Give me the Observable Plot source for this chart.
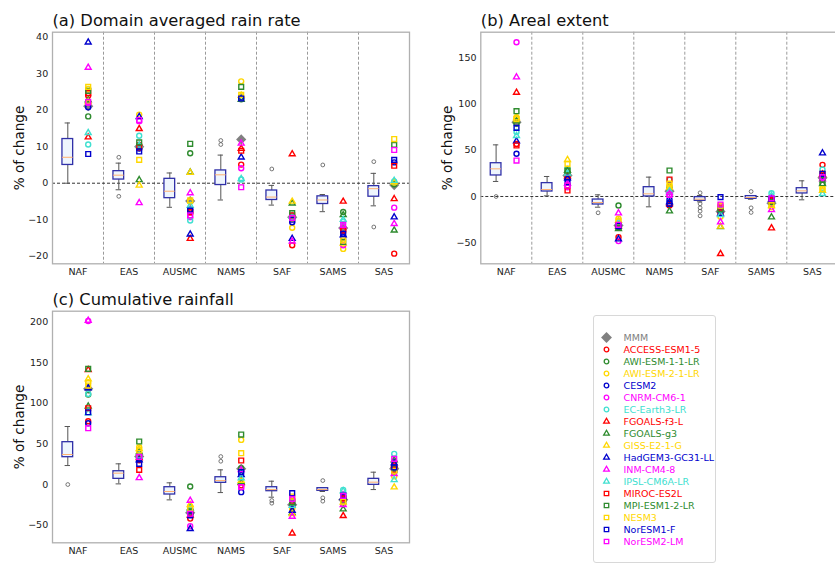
<!DOCTYPE html>
<html><head><meta charset="utf-8">
<script src="https://cdn.jsdelivr.net/npm/d3@7"></script>
<script src="https://cdn.jsdelivr.net/npm/@observablehq/plot@0.6"></script>
<style>
html,body{margin:0;padding:0;background:#fff;overflow:hidden;}
#root{position:relative;width:835px;height:564px;overflow:hidden;font-family:"DejaVu Sans",sans-serif;}
.panel{position:absolute;}
#legend{position:absolute;left:592.7px;top:315px;width:123px;height:248px;border:1px solid #d8d8d8;border-radius:3px;box-sizing:border-box;background:#fff;}
#legend svg{position:absolute;left:-1px;top:-1px;}
</style></head><body><div id="root"></div>
<script>
const regions = ["NAF","EAS","AUSMC","NAMS","SAF","SAMS","SAS"];
const models = ["ACCESS-ESM1-5","AWI-ESM-1-1-LR","AWI-ESM-2-1-LR","CESM2","CNRM-CM6-1","EC-Earth3-LR",
  "FGOALS-f3-L","FGOALS-g3","GISS-E2-1-G","HadGEM3-GC31-LL","INM-CM4-8","IPSL-CM6A-LR",
  "MIROC-ES2L","MPI-ESM1-2-LR","NESM3","NorESM1-F","NorESM2-LM"];
const modelShapes = ["circle","circle","circle","circle","circle","circle",
  "triangle","triangle","triangle","triangle","triangle","triangle",
  "square","square","square","square","square"];
const palette = ["#ff0000","#2e8b2e","#ffd700","#0000cd","#ff00ff","#40e0d0"];
const modelColors = models.map((m, i) => palette[i % 6]);

// (a) Domain averaged rain rate: model values per region (model order as above)
const rateVals = [
  [24.0, 18.3, 25.8, 20.8, 22.0, 10.6, 12.6, 22.8, 22.3, 38.6, 31.7, 13.8, 24.7, 25.3, 26.4, 8.0, 22.3],
  [10.5, 10.2, 18.8, 9.5, 17.0, 13.0, 14.9, 0.9, -0.6, 18.2, -5.4, 10.4, 9.8, 11.2, 6.4, 8.7, 17.3],
  [-8.0, 8.2, -5.0, -7.2, -9.3, -10.2, -15.2, 3.0, 2.9, -14.0, -2.7, -6.1, -7.9, 10.8, -4.7, -7.5, -8.8],
  [5.1, 23.0, 27.9, 23.5, 4.1, 1.0, 9.5, 22.9, 24.0, 7.1, 10.9, 1.2, 8.9, 26.4, 24.2, 23.2, -1.1],
  [-17.0, -9.0, -12.2, -10.7, -9.5, -9.2, 8.0, -5.5, -5.0, -15.2, -15.9, -9.0, -8.8, -8.2, -9.8, -10.0, -9.5],
  [-13.0, -7.9, -18.0, -14.8, -17.0, -10.5, -5.0, -8.7, -16.5, -14.2, -11.8, -10.0, -12.9, -16.1, -15.7, -13.9, -11.4],
  [-19.3, -0.3, 0.2, 5.7, -6.7, 0.5, -4.3, -12.9, 0.3, -9.3, -11.1, 0.7, 4.8, 10.5, 12.1, 6.4, 9.1]
];
const rateMMM = [21.1, 10.0, -4.9, 12.0, -9.3, -12.3, -0.5];
// box stats: [whisker low, q1, median, q3, whisker high]
const rateBox = [
  [0, 5.0, 7.1, 12.1, 16.5], [-1.8, 1.0, 2.2, 3.3, 5.5], [-6.6, -4.1, -2.2, 1.2, 2.8],
  [-4.6, -0.5, 2.3, 3.5, 7.7], [-6.0, -4.6, -3.8, -2.0, -0.6], [-7.8, -5.7, -4.6, -3.6, -3.1],
  [-6.2, -3.7, -1.5, -0.8, 2.7]
];
const rateFliers = [[], [7.1, -3.6], [], [11.7, 10.6], [3.9], [5.0], [5.9, -12.0]];

// (b) Areal extent
const areaVals = [
  [57, 79, 86, 46.3, 167.3, 70, 112.8, 82, 85, 60, 129.4, 65.8, 55.3, 92.5, 84, 74.4, 39.0],
  [12, 26, 30, 19, 10, 30, 22, 28, 39.8, 20, 14, 25, 6.5, 28, 35.4, 15.5, 12],
  [-44.1, -9.8, -24.2, -33, -48.4, -30, -32, -35, -26, -46.3, -18.1, -28, -31, -34, -27, -32, -30.7],
  [-9.8, 10, 12, -3.6, 2, 18, -8, -15.9, 10, -6, 4, 6, 18.4, 28.2, 14, -8, 1.8],
  [-18, -14, -22, -16, -10, -15, -62.2, -33, -32.5, -18.8, -27.8, -20, -12, -14, -10, -0.7, -8.7],
  [-5, -3, -11.6, -2.5, -0.7, 3.6, -34.3, -22.4, -10, -3, -14.5, 1, -4, -6, -9, -2.5, -2],
  [34.3, 14, 8.3, 22, 19, 29.3, 24, 13.7, 6.5, 47.0, 19, 2.9, 24.6, 18, 8, 24.6, 21]
];
const areaMMM = [80.6, 22.8, -31.4, 5.8, -16.3, -7.2, 20.2];
const areaBox = [
  [16.3, 22.8, 30.0, 36.1, 56.0], [0.7, 5.4, 7.6, 14.5, 21.7], [-11.6, -8.7, -6.5, -3.3, 1.8],
  [-11.2, 0, 2.9, 10.1, 21.0], [-5.8, -4.7, -2.9, -0.7, 1.1], [-3.0, -2.5, -1.1, 0.4, 1.0],
  [-3.6, 3.3, 6.1, 9.0, 17.0]
];
const areaFliers = [[0], [], [-17.7], [], [4.0, -8.0, -12.3, -15.9, -21.0], [5.4, -12.3, -17.3], []];

// (c) Cumulative rainfall
const cumVals = [
  [78, 110.9, 126, 75.6, 201.5, 111.7, 141.3, 96.5, 130, 119, 202, 88, 94, 142.5, 122, 89.1, 69.4],
  [30, 38, 46, 32, 36, 37.8, 33, 40, 44, 30, 8.2, 35, 18.1, 53, 42, 25.5, 34],
  [-42, -2.5, -27, -36, -51.3, -32, -38, -29, -25, -54.6, -19.7, -30, -36, -33, -30, -38, -36],
  [-1, 20, 55, -9.4, -3.3, 15, 2, 3, 4.9, 12, 18, 8, 29.6, 61.6, 38.6, 15.2, -3],
  [-28, -25, -30, -24, -18, -22, -60, -35, -36, -32, -39.4, -26, -20, -22, -14.8, -10.7, -17.7],
  [-20, -18, -23.8, -15, -11.5, -6.6, -38.6, -30.4, -22, -16, -25, -8, -17, -20, -21, -13.6, -14],
  [21.4, 15, 10, 22, 28, 37.8, 24, 30, -3.3, 26.3, 13.1, 5.7, 18, 20, 17, 21, 31.6]
];
const cumMMM = [117.9, 34.5, -34.9, 19.3, -25, -18.9, 19.3];
const cumBox = [
  [23.4, 33.7, 37.0, 52.2, 71.5], [0.8, 7.0, 14.0, 16.4, 25.5], [-18.9, -12.3, -8.6, -3.3, 2.1],
  [-9.9, 2.1, 4.9, 9.0, 18.1], [-15.6, -8.2, -6.2, -3.3, 4.1], [-8.6, -7.8, -6.2, -4.5, -4.0],
  [-6.2, -0.4, 2.9, 7.0, 15.2]
];
const cumFliers = [[0], [], [], [34.5, 28.7], [-19.7, -23.0], [4.9, -16.4, -20.5], []];

const diamond = d3.symbolDiamond2 || d3.symbolDiamond;
const BOX_OFF = -0.2, PT_OFF = 0.2, HALF = 0.105;

function panel(opt) {
  const boxes = opt.box.map((b, i) => ({pos: i + BOX_OFF, lo: b[0], q1: b[1], med: b[2], q3: b[3], hi: b[4]}));
  const fl = opt.fliers.flatMap((arr, i) => arr.map(v => ({pos: i + BOX_OFF, v})));
  const pts = opt.vals.flatMap((row, i) => row.map((v, m) => ({pos: i + PT_OFF, v, shape: modelShapes[m], color: modelColors[m]})));
  const mmm = opt.mmm.map((v, i) => ({pos: i + PT_OFF, v}));
  const marks = [];
  if (opt.guides) {
    marks.push(Plot.ruleX([0.5, 1.5, 2.5, 3.5, 4.5, 5.5], {stroke: "#9a9a9a", strokeDasharray: "3,2", strokeWidth: 1}));
    marks.push(Plot.ruleY([0], {stroke: "#333", strokeDasharray: "3,2", strokeWidth: 1}));
  }
  marks.push(
    Plot.ruleX(boxes, {x: "pos", y1: "lo", y2: "q1", stroke: "#555", strokeWidth: 1}),
    Plot.ruleX(boxes, {x: "pos", y1: "q3", y2: "hi", stroke: "#555", strokeWidth: 1}),
    Plot.ruleY(boxes, {y: "lo", x1: d => d.pos - HALF / 2, x2: d => d.pos + HALF / 2, stroke: "#555", strokeWidth: 1}),
    Plot.ruleY(boxes, {y: "hi", x1: d => d.pos - HALF / 2, x2: d => d.pos + HALF / 2, stroke: "#555", strokeWidth: 1}),
    Plot.rect(boxes, {x1: d => d.pos - HALF, x2: d => d.pos + HALF, y1: "q1", y2: "q3", fill: "#eef5fd", stroke: "#3030a8", strokeWidth: 1.3}),
    Plot.ruleY(boxes, {y: "med", x1: d => d.pos - HALF, x2: d => d.pos + HALF, stroke: "#ffb070", strokeWidth: 1}),
    Plot.dot(fl, {x: "pos", y: "v", r: 1.9, stroke: "#555", fill: "none", strokeWidth: 0.8}),
    Plot.dot(mmm, {x: "pos", y: "v", symbol: diamond, r: 4.6, fill: "#808080", stroke: "none"}),
    Plot.dot(pts.filter(d => d.shape === "circle"), {x: "pos", y: "v", symbol: "circle", r: 2.5, stroke: "color", fill: "none", strokeWidth: 1.4}),
    Plot.dot(pts.filter(d => d.shape === "triangle"), {x: "pos", y: "v", symbol: "triangle", r: 2.2, stroke: "color", fill: "none", strokeWidth: 1.4}),
    Plot.dot(pts.filter(d => d.shape === "square"), {x: "pos", y: "v", symbol: "square", r: 2.7, stroke: "color", fill: "none", strokeWidth: 1.4}),
    Plot.frame({stroke: "#b0b0b0", strokeWidth: 1.3}),
    Plot.text([opt.title], {frameAnchor: "top-left", textAnchor: "start", lineAnchor: "bottom", dy: -6.5, fontSize: 16.3, fill: "#111"}),
    Plot.text(["% of change"], {frameAnchor: "left", rotate: -90, textAnchor: "middle", lineAnchor: "middle", dx: opt.labelDx, fontSize: 13.6, fill: "#111"})
  );
  const chart = Plot.plot({
    width: opt.width, height: opt.height,
    marginLeft: opt.ml, marginRight: opt.mr, marginTop: opt.mt, marginBottom: opt.mb,
    style: {fontFamily: "DejaVu Sans, sans-serif", fontSize: "9.5px", color: "#222", background: "transparent", maxWidth: "none", overflow: "visible"},
    x: {domain: [-0.5, 6.5], ticks: [0, 1, 2, 3, 4, 5, 6], tickFormat: i => regions[i], tickSize: 0, tickPadding: 4.5, label: null},
    y: {domain: opt.yDomain, ticks: opt.yTicks, tickSize: 0, tickPadding: 4.3, label: null},
    symbol: {type: "identity"},
    color: {type: "identity"},
    marks
  });
  const div = document.createElement("div");
  div.className = "panel";
  div.style.left = opt.left + "px";
  div.style.top = opt.top + "px";
  div.style.width = opt.width + "px";
  div.appendChild(chart);
  document.getElementById("root").appendChild(div);
}

panel({title: "(a) Domain averaged rain rate", vals: rateVals, mmm: rateMMM, box: rateBox, fliers: rateFliers,
  yDomain: [-22.08, 41.37], yTicks: [-20, -10, 0, 10, 20, 30, 40], guides: true,
  left: 0, top: 0, width: 420, height: 290, ml: 52, mr: 11, mt: 31.7, mb: 26.7, labelDx: -33});
panel({title: "(b) Areal extent", vals: areaVals, mmm: areaMMM, box: areaBox, fliers: areaFliers,
  yDomain: [-73.0, 178.2], yTicks: [-50, 0, 50, 100, 150], guides: true,
  left: 420, top: 0, width: 420, height: 290, ml: 60.3, mr: 2.7, mt: 31.7, mb: 26.7, labelDx: -32.8});
panel({title: "(c) Cumulative rainfall", vals: cumVals, mmm: cumMMM, box: cumBox, fliers: cumFliers,
  yDomain: [-71.8, 213.6], yTicks: [-50, 0, 50, 100, 150, 200], guides: false,
  left: 0, top: 280, width: 420, height: 284, ml: 52, mr: 11, mt: 30.7, mb: 21.7, labelDx: -33});

// legend
const legendNames = ["MMM", ...models];
const legendColors = ["#808080", ...modelColors];
const legend = Plot.plot({
  width: 123, height: 248, margin: 0,
  style: {fontFamily: "DejaVu Sans, sans-serif", fontSize: "9.5px", background: "transparent", maxWidth: "none", overflow: "visible"},
  x: {axis: null, domain: [0, 1]},
  y: {type: "point", domain: legendNames, range: [8.7, 8.7 + 13.6 * 17], axis: null},
  symbol: {type: "identity"},
  color: {type: "identity"},
  marks: [
    Plot.dot(["MMM"], {y: d => d, frameAnchor: "left", dx: 13, symbol: diamond, r: 4.9, fill: "#808080"}),
    Plot.dot(models.filter((m, i) => modelShapes[i] === "circle"), {y: d => d, frameAnchor: "left", dx: 13, symbol: "circle", r: 2.3, stroke: d => modelColors[models.indexOf(d)], fill: "none", strokeWidth: 1.3}),
    Plot.dot(models.filter((m, i) => modelShapes[i] === "triangle"), {y: d => d, frameAnchor: "left", dx: 13, symbol: "triangle", r: 2.1, stroke: d => modelColors[models.indexOf(d)], fill: "none", strokeWidth: 1.3}),
    Plot.dot(models.filter((m, i) => modelShapes[i] === "square"), {y: d => d, frameAnchor: "left", dx: 13, symbol: "square", r: 2.5, stroke: d => modelColors[models.indexOf(d)], fill: "none", strokeWidth: 1.3}),
    Plot.text(legendNames, {y: d => d, text: d => d, frameAnchor: "left", dx: 30, textAnchor: "start", lineAnchor: "middle", fill: d => legendColors[legendNames.indexOf(d)], fontSize: 9.5})
  ]
});
const lg = document.createElement("div");
lg.id = "legend";
lg.appendChild(legend);
document.getElementById("root").appendChild(lg);
</script></body></html>
